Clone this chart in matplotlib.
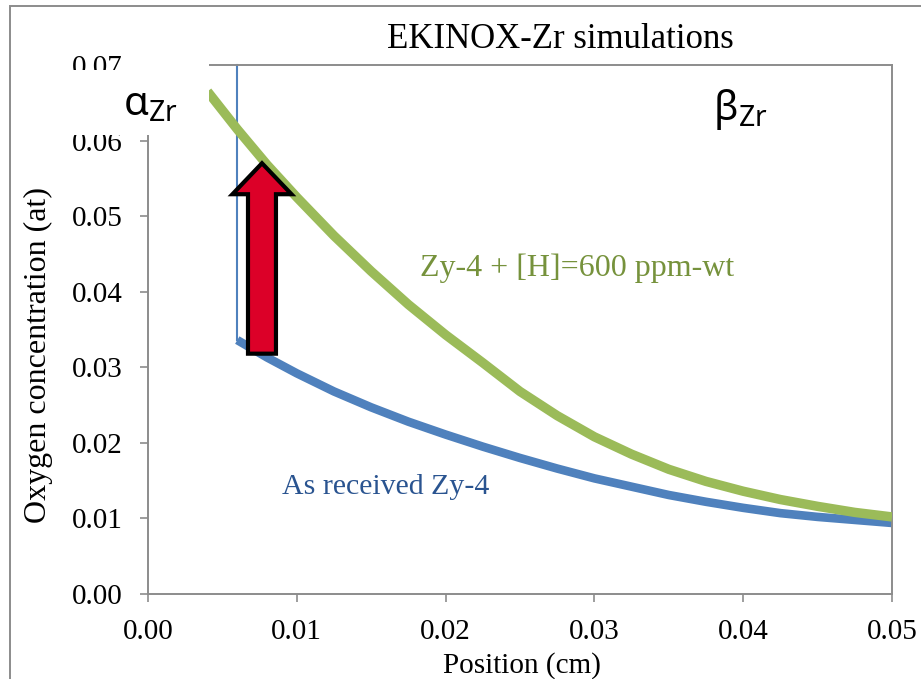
"""EKINOX-Zr simulations: oxygen profile in the beta phase, as received Zy-4
against Zy-4 charged with 600 ppm-wt hydrogen."""

import matplotlib

matplotlib.use("Agg")
import matplotlib.pyplot as plt
from matplotlib.patches import FancyArrow, Rectangle

# Position (cm) and oxygen concentration (at).
POS_H = [0.004, 0.006, 0.008, 0.010, 0.0125, 0.015, 0.0175, 0.020, 0.0225, 0.025,
         0.0275, 0.030, 0.0325, 0.035, 0.0375, 0.040, 0.0425, 0.045, 0.0475, 0.050]
OXY_H = [0.0665, 0.0615, 0.0568, 0.0525, 0.0474, 0.0427, 0.0383, 0.0343, 0.0306, 0.0268,
         0.0236, 0.0208, 0.0185, 0.0165, 0.0149, 0.0136, 0.0125, 0.0116, 0.0108, 0.0102]

POS_AR = [0.006, 0.008, 0.010, 0.0125, 0.015, 0.0175, 0.020, 0.0225, 0.025, 0.0275,
          0.030, 0.0325, 0.035, 0.0375, 0.040, 0.0425, 0.045, 0.0475, 0.050]
OXY_AR = [0.0336, 0.0313, 0.0292, 0.0268, 0.0247, 0.0228, 0.0211, 0.0195, 0.0180, 0.0166,
          0.0153, 0.0142, 0.0131, 0.0122, 0.0114, 0.0107, 0.0102, 0.0098, 0.0094]

# alpha/beta interface of the as received profile (thin vertical step)
INTERFACE_X = [0.006, 0.006]
INTERFACE_Y = [0.0336, 0.070]

# the red arrow: from the as received value up to the hydrided one
ARROW_X = 0.00766
ARROW_Y = (0.0318, 0.0570)

X_TICKS = [0.00, 0.01, 0.02, 0.03, 0.04, 0.05]
Y_TICKS = [0.00, 0.01, 0.02, 0.03, 0.04, 0.05, 0.06, 0.07]

GREEN = "#9BBB59"
GREEN_TXT = "#76923C"
BLUE = "#4F81BD"
BLUE_TXT = "#2A5490"
RED = "#DC0028"
GREY = "#8C8C8C"

SERIF = ["Liberation Serif", "DejaVu Serif"]
SANS = ["Noto Sans", "DejaVu Sans"]

W, H = 921, 679


def px(x, y):
    """pixel position in the picture -> figure fraction"""
    return x / W, 1 - y / H


plt.rcParams.update({
    "font.family": SERIF,
    "font.size": 21,
    "axes.linewidth": 1.4,
    "axes.edgecolor": GREY,
    "xtick.color": GREY,
    "ytick.color": GREY,
    "xtick.labelcolor": "black",
    "ytick.labelcolor": "black",
})

fig = plt.figure(figsize=(W / 100, H / 100), dpi=100)
l, b = px(148, 594)
r, t = px(892, 65)
ax = fig.add_axes([l, b, r - l, t - b])

ax.plot(POS_H, OXY_H, color=GREEN, lw=6.8, solid_capstyle="butt", zorder=3)
ax.plot(POS_AR, OXY_AR, color=BLUE, lw=6.2, solid_capstyle="butt", zorder=2)
ax.plot(INTERFACE_X, INTERFACE_Y, color=BLUE, lw=1.5, zorder=2, clip_on=False)

y0, y1 = ARROW_Y
ax.add_patch(FancyArrow(ARROW_X, y0, 0, y1 - y0, width=0.00188, head_width=0.00397,
                        head_length=0.0041, length_includes_head=True,
                        facecolor=RED, edgecolor="black", lw=3, joinstyle="miter",
                        zorder=5))

ax.set_xlim(0, 0.05)
ax.set_ylim(0, 0.07)
ax.set_xticks(X_TICKS)
ax.set_yticks(Y_TICKS)
ax.set_xticklabels([f"{v:.2f}" for v in X_TICKS])
ax.set_yticklabels([f"{v:.2f}" for v in Y_TICKS])
ax.tick_params(direction="out", length=6, width=1.2, pad=12)
for s in ax.spines.values():
    s.set_color(GREY)

ax.text(0.02883, 0.0431, "Zy-4 + [H]=600 ppm-wt", color=GREEN_TXT, fontsize=23,
        ha="center", va="center")
ax.text(0.0160, 0.01415, "As received Zy-4", color=BLUE_TXT, fontsize=21.5,
        ha="center", va="center")

fig.text(*px(560, 48), "EKINOX-Zr simulations", fontsize=25, ha="center", va="baseline")
fig.text(*px(522, 673), "Position (cm)", fontsize=21, ha="center", va="baseline")
fig.text(*px(38, 355), "Oxygen concentration (at)", fontsize=23, rotation=90,
         ha="center", va="center")

# white box of the alpha label, it hides the corner of the frame
for (x0, ya, x1, yb) in ((62, 70, 209, 135), (138, 60, 209, 70)):
    fx0, fy0 = px(x0, yb)
    fx1, fy1 = px(x1, ya)
    fig.patches.append(Rectangle((fx0, fy0), fx1 - fx0, fy1 - fy0, facecolor="white",
                                 edgecolor="none", transform=fig.transFigure,
                                 zorder=10))

fig.text(*px(123, 115), r"α$_{\mathregular{Zr}}$", family=SANS, fontsize=29,
         va="baseline", zorder=11)
fig.text(*px(713, 120), r"β$_{\mathregular{Zr}}$", family=SANS, fontsize=29,
         va="baseline", zorder=11)

# outer frame of the pasted chart
fx, fy = px(10, 6)
fig.patches.append(Rectangle((fx, -0.1), 1.0, fy + 0.1, facecolor="none",
                             edgecolor=GREY, lw=1.4, transform=fig.transFigure,
                             zorder=0))

fig.savefig("out.png", dpi=100)
